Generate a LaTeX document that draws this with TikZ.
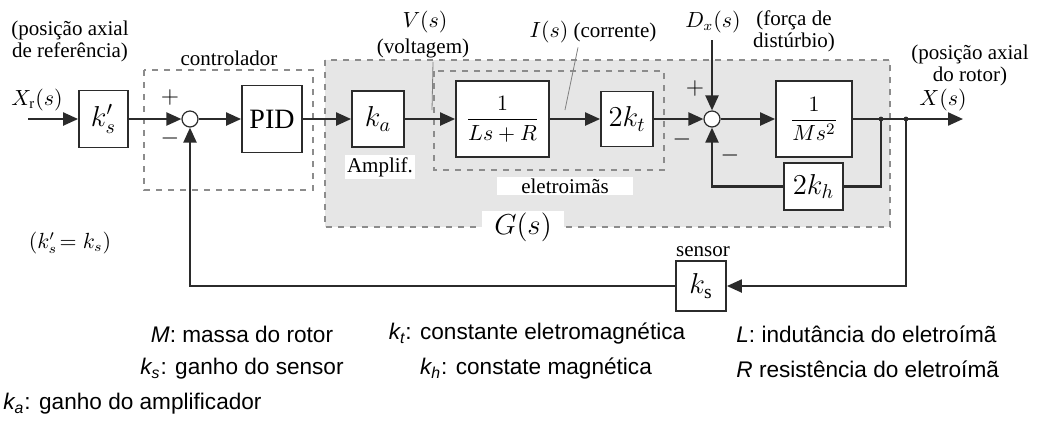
\documentclass[tikz,border=0pt]{standalone}
\usepackage{amsmath}
\usepackage{fontspec}
\setmainfont{Liberation Serif}
\newfontfamily\legfont{Liberation Sans}
\usetikzlibrary{positioning, arrows.meta, calc}
\definecolor{boxgray}{HTML}{E6E6E6}
\definecolor{dashgray}{HTML}{8C8C8C}
\definecolor{linegray}{HTML}{2B2B2B}

\begin{document}
\begin{tikzpicture}[
  x=0.5pt, y=-0.5pt,
  blk/.style={draw=linegray, line width=0.9pt, fill=white, inner sep=0pt,
              font=\fontsize{14}{16}\selectfont},
  frac/.style={blk, font=\fontsize{11}{13}\selectfont},
  sumc/.style={draw=linegray, circle, fill=white, line width=0.6pt, minimum size=8pt, inner sep=0pt},
  ar/.style={-{Triangle[length=7.5pt,width=6.5pt]}, line width=1.1pt, linegray},
  ln/.style={line width=1.1pt, linegray},
  grp/.style={draw=dashgray, dashed, line width=0.6pt},
  txt/.style={font=\fontsize{10.5}{11}\selectfont, align=center, inner sep=1pt},
  sgn/.style={font=\fontsize{13}{13}\selectfont, inner sep=0pt},
  leg/.style={font=\legfont\fontsize{11.3}{13}\selectfont, inner sep=0pt},
]
\useasboundingbox (0,0) rectangle (1037,441);

% grupos
\draw[grp, fill=boxgray] (325,60) rectangle (890,227);
\draw[grp] (144,70) rectangle (313,190);
\draw[grp] (434,71) rectangle (664,170);

% blocos
\node[blk, minimum width=24.5pt, minimum height=28.5pt] (ksr) at (103.5,119) {$k'_{s}$};
\node[sumc] (sum1) at (190,119) {};
\node[blk, minimum width=30pt, minimum height=33.5pt] (pid) at (272,119) {PID};
\node[blk, minimum width=26pt, minimum height=28pt] (ka) at (378,119) {$k_a$};
\node[frac, minimum width=46.5pt, minimum height=38pt] (elec) at (502.5,119) {$\dfrac{1}{Ls+R}$};
\node[blk, minimum width=26pt, minimum height=27.5pt] (kt) at (627,119) {$2k_t$};
\node[sumc] (sum2) at (712,119) {};
\node[frac, minimum width=38pt, minimum height=38pt] (mass) at (814,119) {$\dfrac{1}{Ms^2}$};
\node[blk, minimum width=29.5pt, minimum height=23.5pt] (kh) at (813.5,186.5) {$2k_h$};
\node[blk, minimum width=25pt, minimum height=25pt] (sens) at (701,286) {$k_{\mathrm{s}}$};

\coordinate (xin) at (28,119);
\coordinate (br1) at (881,119);
\coordinate (br2) at (906,119);
\coordinate (xout) at (963,119);
\coordinate (dist) at (712,40);

% ligacoes
\draw[ar] (xin) -- (ksr);
\draw[ar] (ksr) -- (sum1);
\draw[ar] (sum1) -- (pid);
\draw[ar] (pid) -- (ka);
\draw[ar] (ka) -- (elec);
\draw[ar] (elec) -- (kt);
\draw[ar] (kt) -- (sum2);
\draw[ar] (sum2) -- (mass);
\draw[ln] (mass) -- (br1);
\draw[ar] (br1) -- (xout);
\draw[ln] (br1) |- (kh);
\draw[ar] (kh) -| (sum2);
\draw[ar] (br2) |- (sens);
\draw[ar] (sens) -| (sum1);
\draw[ar] (dist) -- (sum2);
\fill[linegray] (br1) circle (1.2pt) (br2) circle (1.2pt);

% sinais
\node[sgn] (p1) at (170,97) {$+$};
\node[sgn] (m1) at (170,138) {$-$};
\node[sgn] (p2) at (695,88) {$+$};
\node[sgn] (m2) at (682,139) {$-$};
\node[sgn] (m3) at (730,155) {$-$};

% rotulos
\node[txt] (refl) at (70,41) {(posição axial\\de referência)};
\node[txt] (xr) at (37,100) {$X_{\mathrm{r}}(s)$};
\node[txt] (ctrl) at (229,58) {controlador};
\node[txt] (vs) at (425,22) {$V(s)$};
\node[txt] (volt) at (423,48) {(voltagem)};
\node[txt] (is) at (593,32) {$I(s)$ (corrente)};
\node[txt] (dx) at (713,22) {$D_x(s)$};
\node[txt] (forca) at (794,31) {(força de\\distúrbio)};
\node[txt] (rotl) at (970,65) {(posição axial\\do rotor)};
\node[txt] (xs) at (943,100) {$X(s)$};
\node[txt, fill=white] (amp) at (380,167) {Amplif.};
\node[txt, fill=white, inner xsep=12pt] (eletl) at (565,186) {eletroimãs};
\node[txt, fill=white, inner xsep=6pt, font=\fontsize{14}{16}\selectfont] (gs) at (523,227) {$G(s)$};
\node[txt] (kseq) at (70,243) {$(k'_{s}\!=k_{s})$};
\node[txt] (sensl) at (703,252) {sensor};
\draw[gray, thin] (volt.south) ++(10,2) -- ($(ka.east)!0.5!(elec.west)+(2,-9)$);
\draw[gray, thin] (is.south) ++(-15,2) -- ($(elec.east)!0.3!(kt.west)+(0,-9)$);

% legenda
\node[leg] (lm) at (242,334) {\textit{M}: massa do rotor};
\node[leg] (lkt) at (537,334) {\textit{k\textsubscript{t}}: constante eletromagnética};
\node[leg, anchor=west] (ll) at (736,334) {\textit{L}: indutância do eletroímã};
\node[leg] (lks) at (242,369) {\textit{k\textsubscript{s}}: ganho do sensor};
\node[leg] (lkh) at (536,369) {\textit{k\textsubscript{h}}: constate magnética};
\node[leg, anchor=west] (lr) at (736,369) {\textit{R} resistência do eletroímã};
\node[leg, anchor=west] (lka) at (3,404) {\textit{k\textsubscript{a}}: ganho do amplificador};
\end{tikzpicture}
\end{document}
